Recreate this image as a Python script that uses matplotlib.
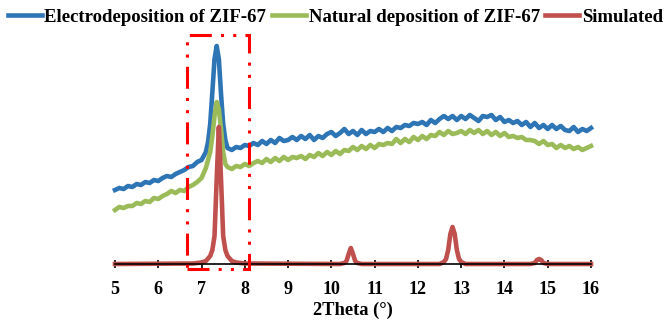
import numpy as np
import matplotlib
matplotlib.use("Agg")
import matplotlib.pyplot as plt
from matplotlib.patches import Rectangle

# 2Theta sampling for the two measured patterns (finer around the 7.35 peak)
theta_exp = np.round(np.concatenate([
    np.arange(5.0, 7.15, 0.1),
    np.arange(7.15, 7.65, 0.05),
    np.arange(7.7, 16.05, 0.1),
]), 2)

electro = [
    74, 76, 75, 78, 77, 80, 79, 82, 81, 84,
    83, 86, 88, 87, 90, 92, 94, 97, 98, 102,
    104, 112,
    122, 140, 172, 205, 218, 205, 170, 140, 124, 116,
    114, 117, 116, 119, 118, 121, 119, 123, 120, 124,
    121, 126, 123, 124, 127, 124, 128, 125, 129, 124,
    128, 126, 130, 132, 128, 131, 135, 130, 133, 129,
    134, 130, 133, 132, 135, 132, 136, 133, 137, 136,
    139, 138, 141, 140, 142, 139, 144, 141, 145, 148,
    145, 148, 144, 148, 145, 149, 146, 143, 148, 147,
    149, 144, 147, 142, 144, 141, 143, 139, 142, 137,
    141, 136, 139, 135, 139, 135, 138, 134, 133, 137,
    132, 135, 133, 136,
]

natural = [
    54, 57, 56, 58, 58, 61, 60, 63, 62, 66,
    65, 68, 70, 73, 71, 74, 73, 77, 79, 82,
    86, 96,
    104, 112, 128, 148, 162, 155, 135, 112, 100, 97,
    95, 98, 97, 100, 98, 101, 103, 101, 105, 102,
    106, 103, 107, 104, 107, 106, 108, 105, 109, 107,
    111, 108, 112, 109, 113, 110, 114, 113, 117, 114,
    118, 115, 119, 116, 120, 119, 121, 120, 125, 121,
    125, 122, 127, 124, 128, 125, 129, 128, 132, 129,
    133, 130, 131, 133, 130, 134, 131, 134, 130, 133,
    129, 132, 128, 131, 127, 128, 126, 127, 124, 124,
    123, 120, 123, 119, 120, 116, 119, 116, 118, 115,
    117, 114, 116, 118,
]

theta_sim = [5.0, 6.8, 7.0, 7.1, 7.2, 7.25, 7.3, 7.35, 7.4, 7.45, 7.5, 7.55, 7.6,
             7.7, 7.8, 8.0, 10.2, 10.3, 10.35, 10.4, 10.45, 10.5, 10.55, 10.6,
             10.7, 12.5, 12.6, 12.65, 12.7, 12.75, 12.8, 12.85, 12.9, 12.95,
             13.0, 13.1, 14.6, 14.7, 14.75, 14.8, 14.85, 14.9, 15.0, 16.0]
simulated = [0, 0.5, 1.5, 3, 8, 14, 28, 85, 137, 85, 28, 14, 8,
             3, 1.5, 0.5, 0, 1, 3, 10, 16, 10, 3, 1,
             0, 0, 2, 5, 14, 30, 37, 30, 14, 5,
             2, 0, 0, 1, 4, 5, 4, 1, 0, 0]

xticks = list(range(5, 17))

plt.rcParams["font.family"] = ["Liberation Serif", "DejaVu Serif"]
plt.rcParams["font.weight"] = "bold"

fig = plt.figure(figsize=(6.71, 3.2), dpi=100)
ax = fig.add_axes([115 / 671, 56 / 320, 476 / 671, 230 / 320])

ax.plot(theta_exp, electro, color="#2E75B6", lw=3.3, label="Electrodeposition of ZIF-67",
        solid_joinstyle="round", clip_on=False)
ax.plot(theta_exp, natural, color="#9BBB59", lw=3.3, label="Natural deposition of ZIF-67",
        solid_joinstyle="round", clip_on=False)
ax.plot(theta_sim, simulated, color="#C0504D", lw=3.3, label="Simulated",
        solid_joinstyle="round", clip_on=False)

# highlight box around the main peak
box = Rectangle((6.66, -5), 1.43, 234, fill=False, edgecolor="#FF0000", lw=2.2,
                linestyle=(0, (7.2, 3, 1, 3, 1, 3)), clip_on=False, zorder=5)
ax.add_patch(box)

ax.set_xlim(5, 16)
ax.set_ylim(0, 230)
ax.set_xticks(xticks)
ax.set_yticks([])
for s in ["left", "right", "top"]:
    ax.spines[s].set_visible(False)
ax.spines["bottom"].set_linewidth(1.2)
ax.tick_params(axis="x", direction="inout", length=6, width=1.2, labelsize=13, pad=9)
ax.set_xlabel("2Theta (°)", fontsize=13.3, fontweight="bold", labelpad=3)

fig.legend(loc="center", bbox_to_anchor=(0.5, 1 - 17 / 320), ncol=3, frameon=False,
           fontsize=13.5, handlelength=1.8, handletextpad=0.15, columnspacing=0.3,
           borderaxespad=0)

fig.savefig("out.png", dpi=100)
